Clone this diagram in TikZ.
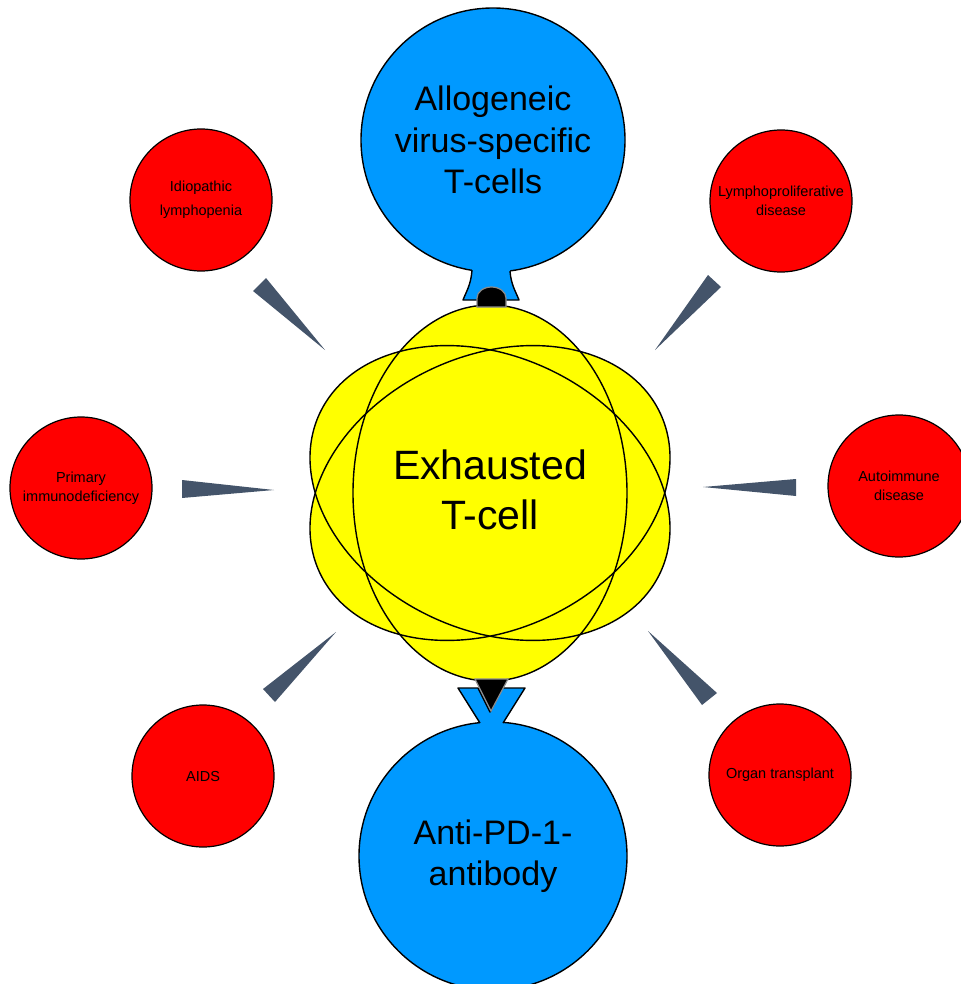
\documentclass[tikz,border=0pt]{standalone}
\usepackage{fontspec}
\setmainfont{Liberation Sans}
\usetikzlibrary{positioning}
\definecolor{cellblue}{HTML}{0099FF}
\definecolor{slate}{HTML}{44546A}
\definecolor{cellyellow}{HTML}{FFFF00}

\begin{document}
\begin{tikzpicture}[x=1pt, y=-1pt,
every node/.append style = {inner sep=1.5pt, align=center},
   big/.style = {circle, draw, line width=1.4pt, fill=cellblue, minimum size=#1,
                 font=\fontsize{34}{41.5}\selectfont},
 small/.style = {circle, draw, line width=1.2pt, fill=red, minimum size=142pt,
                 font=\fontsize{14.5}{18.5}\selectfont},
   pin/.style = {fill=slate},
  plug/.style = {fill=black, draw=gray!90, line width=1.2pt},
  edgy/.style = {draw, line width=1.4pt, line join=round}
                    ]
\useasboundingbox (0,0) rectangle (960,984);
% central cell
\foreach \a in {0,65,-65}
  \fill[cellyellow, rotate around={\a:(490,493)}] (490,493) ellipse [x radius=137, y radius=188];
\foreach \a in {0,65,-65}
  \draw[line width=1.4pt, rotate around={\a:(490,493)}] (490,493) ellipse [x radius=137, y radius=188];
\node (tcell) at (490,490) [font=\fontsize{41}{50}\selectfont] {Exhausted\\T-cell};
%nodes
\node (allo)    [big=264pt] at (493,140) {Allogeneic\\virus-specific\\T-cells};
\node (antipd)  [big=268pt] at (493,856) {Anti-PD-1-\\antibody};
%
\node (idio)    [small, font=\fontsize{14.5}{24}\selectfont] at (201,200) {Idiopathic\\lymphopenia};
\node (lympho)  [small] at (781,201) {Lymphoproliferative\\disease};
\node (primary) [small] at (81,488)  {Primary\\immunodeficiency};
\node (autoimm) [small] at (899,486) {Autoimmune\\disease};
\node (aids)    [small] at (203,776) {AIDS};
\node (organ)   [small] at (780,775) {Organ transplant};
% top plug
\fill[cellblue] (472,262) -- (472,270) .. controls (471,285) and (466,292) .. (463,300)
     -- (519,300) .. controls (516,292) and (511,285) .. (510,271) -- (510,262) -- cycle;
\draw[edgy] (472,270) .. controls (471,285) and (466,292) .. (463,300)
     -- (519,300) .. controls (516,292) and (511,285) .. (510,271);
\draw[plug] (477,307) -- (477,298) arc [start angle=180, end angle=360, x radius=14.5, y radius=11]
     -- (506,307) -- cycle;
% bottom plug
\fill[cellblue] (458,688) -- (525,688) -- (503,724) -- (503,736) -- (480,736) -- (480,724) -- cycle;
\draw[edgy] (480,723) -- (458,688) -- (478,688) -- (490,712) -- (502,688) -- (525,688) -- (503,723);
\draw[plug] (475,679) -- (508,679) -- (491,711) -- cycle;
% wedges
\fill[pin] (253,291) -- (266,278) -- (325,350) -- cycle;
\fill[pin] (182,480) -- (182,498) -- (274,490) -- cycle;
\fill[pin] (263,689) -- (275,702) -- (336,632) -- cycle;
\fill[pin] (708,275) -- (721,287) -- (655,350) -- cycle;
\fill[pin] (796,479) -- (796,496) -- (703,487) -- cycle;
\fill[pin] (717,693) -- (702,705) -- (648,631) -- cycle;
\end{tikzpicture}
\end{document}
